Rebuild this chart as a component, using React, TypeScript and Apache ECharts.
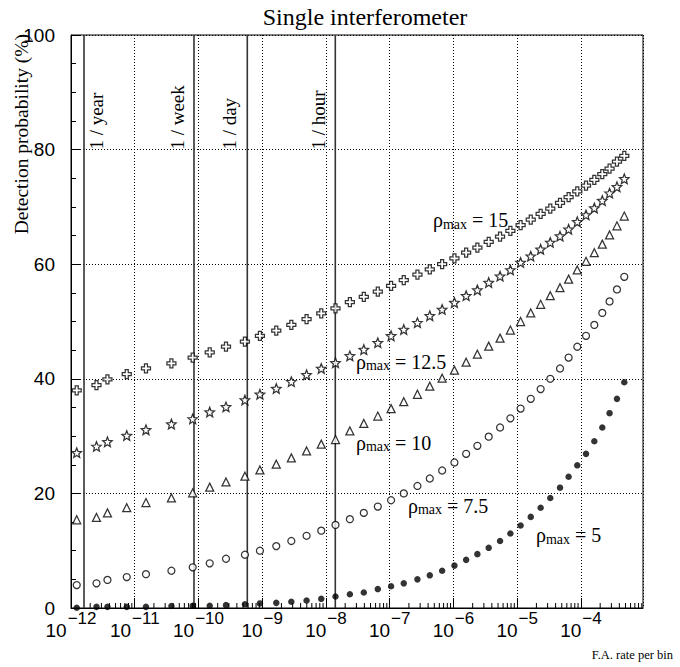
import React, { useEffect, useRef } from 'react';
import * as echarts from 'echarts';

// F.A. rate per bin (shared by all curves)
const faRate = [
  1.23e-12, 2.51e-12, 3.73e-12, 7.49e-12, 1.5e-11, 3.76e-11, 8.11e-11, 1.5e-10, 2.7e-10, 5.35e-10,
  9.2e-10, 1.66e-9, 2.86e-9, 4.96e-9, 8.43e-9, 1.41e-8, 2.37e-8, 3.92e-8, 6.5e-8, 1.05e-7,
  1.66e-7, 2.72e-7, 4.25e-7, 6.64e-7, 1.035e-6, 1.58e-6, 2.37e-6, 3.57e-6, 5.38e-6, 7.81e-6,
  1.13e-5, 1.63e-5, 2.33e-5, 3.3e-5, 4.69e-5, 6.4e-5, 8.75e-5, 1.2e-4, 1.62e-4, 2.16e-4,
  2.81e-4, 3.67e-4, 4.78e-4,
];

const rho15 = [
  38.0, 38.9, 39.9, 40.8, 41.8, 42.7, 43.7, 44.6, 45.6, 46.5, 47.5, 48.4, 49.4, 50.4, 51.4, 52.3,
  53.4, 54.3, 55.2, 56.2, 57.2, 58.2, 59.1, 60.0, 61.0, 62.0, 62.9, 63.9, 64.8, 65.8, 66.8, 67.8,
  68.8, 69.7, 70.7, 71.7, 72.7, 73.7, 74.7, 75.7, 76.7, 77.9, 78.9,
];
const rho125 = [
  27.1, 28.2, 29.0, 30.1, 31.1, 32.1, 33.0, 34.2, 35.1, 36.3, 37.3, 38.3, 39.5, 40.7, 41.8, 42.8,
  44.0, 45.1, 46.3, 47.5, 48.6, 49.8, 51.0, 52.1, 53.3, 54.5, 55.5, 56.8, 57.9, 59.0, 60.3, 61.4,
  62.6, 63.8, 64.9, 66.1, 67.4, 68.6, 69.8, 71.1, 72.4, 73.5, 74.9,
];
const rho10 = [
  15.4, 15.8, 16.6, 17.5, 18.4, 19.2, 20.1, 21.1, 22.0, 23.0, 24.1, 25.1, 26.2, 27.4, 28.6, 29.4,
  30.9, 32.2, 33.5, 34.8, 36.0, 37.3, 38.7, 40.1, 41.5, 42.9, 44.3, 45.7, 47.1, 48.5, 50.0, 51.5,
  53.0, 54.5, 55.9, 57.4, 59.0, 60.5, 62.0, 63.5, 65.1, 66.7, 68.4,
];
const rho75 = [
  4.0, 4.3, 4.9, 5.4, 5.9, 6.5, 7.1, 7.8, 8.6, 9.3, 10.0, 10.8, 11.7, 12.6, 13.5, 14.5,
  15.5, 16.6, 17.7, 18.8, 20.0, 21.3, 22.6, 24.0, 25.4, 26.9, 28.3, 29.9, 31.5, 33.1, 34.8, 36.5,
  38.2, 40.0, 41.8, 43.7, 45.6, 47.5, 49.4, 51.5, 53.5, 55.6, 57.8,
];
const rho5 = [
  0.05, 0.2, 0.2, 0.2, 0.2, 0.35, 0.4, 0.4, 0.5, 0.65, 0.8, 0.9, 1.1, 1.3, 1.6, 2.0,
  2.4, 2.7, 3.3, 3.8, 4.3, 5.0, 5.7, 6.5, 7.4, 8.4, 9.4, 10.5, 11.7, 13.0, 14.4, 15.9,
  17.5, 19.2, 21.0, 22.9, 24.9, 26.9, 29.1, 31.5, 34.0, 36.5, 39.4,
];

// reference rates (vertical lines)
const rateMarkNames = ['1 / year', '1 / week', '1 / day', '1 / hour'];
const rateMarkValues = [1.6e-12, 8.5e-11, 5.83e-10, 1.4e-8];

const curveLabels = ['15', '12.5', '10', '7.5', '5'];

const X_MIN = 1e-12;
const X_MAX = 9.4e-4;

const W = 680;
const H = 667;

const SERIF = '"Liberation Serif", "Times New Roman", serif';
const SANS = '"Liberation Sans", Arial, Helvetica, sans-serif';

const STAR =
  'path://M0,-10 L2.6,-3.6 L9.51,-3.09 L4.2,1.37 L5.88,8.09 L0,4.4 L-5.88,8.09 L-4.2,1.37 L-9.51,-3.09 L-2.6,-3.6 Z';
const CROSS = 'path://M-1,-3 L1,-3 L1,-1 L3,-1 L3,1 L1,1 L1,3 L-1,3 L-1,1 L-3,1 L-3,-1 L-1,-1 Z';

export default function App() {
  const ref = useRef<HTMLDivElement>(null);

  useEffect(() => {
    const el = ref.current;
    if (!el) return;
    const chart = echarts.init(el, null, { renderer: 'svg', width: W, height: H });

    const open = { color: '#fff', borderColor: '#000', borderWidth: 1.25 };
    const mk = (name: string, values: number[], symbol: string, size: number, itemStyle: any) => ({
      type: 'scatter',
      name,
      data: faRate.map((x, i) => [x, values[i]]),
      symbol,
      symbolSize: size,
      itemStyle,
      z: 5,
      silent: true,
    });

    const minorX: number[][] = [];
    for (let k = -12; k <= -4; k++) {
      for (let m = 2; m <= 9; m++) {
        const v = m * Math.pow(10, k);
        if (v < X_MAX) minorX.push([v, 0]);
      }
    }

    chart.setOption({
      animation: false,
      backgroundColor: '#fff',
      title: {
        text: 'Single interferometer',
        left: 365,
        top: 5,
        textAlign: 'center',
        padding: 0,
        textStyle: { fontFamily: SERIF, fontSize: 24, fontWeight: 'normal', color: '#000' },
      },
      grid: {
        left: 71,
        right: 37,
        top: 35,
        bottom: 59,
        show: true,
        borderColor: '#000',
        borderWidth: 1,
        backgroundColor: 'transparent',
      },
      xAxis: {
        type: 'log',
        logBase: 10,
        min: X_MIN,
        max: X_MAX,
        axisLine: { lineStyle: { color: '#000', width: 1 } },
        axisTick: { inside: true, length: 10, lineStyle: { color: '#000' } },
        splitLine: { show: true, lineStyle: { color: '#000', width: 1, type: [1, 2] } },
        axisLabel: {
          margin: 2,
          showMaxLabel: false,
          formatter: (v: number) => {
            const e = Math.round(Math.log10(v));
            return `{b|10}{e|${e < 0 ? '\u2212' : ''}${Math.abs(e)}}`;
          },
          rich: {
            b: { fontFamily: SANS, fontSize: 19, lineHeight: 19, verticalAlign: 'bottom', color: '#000' },
            e: { fontFamily: SANS, fontSize: 17, lineHeight: 30, verticalAlign: 'top', color: '#000', padding: [0, 0, 0, 1] },
          },
        },
      },
      yAxis: {
        type: 'value',
        min: 0,
        max: 100,
        interval: 20,
        axisLine: { show: true, lineStyle: { color: '#000', width: 1 } },
        axisTick: { show: true, inside: true, length: 9, lineStyle: { color: '#000' } },
        minorTick: { show: true, splitNumber: 4, length: 5, lineStyle: { color: '#000' } },
        splitLine: { show: true, lineStyle: { color: '#000', width: 1, type: [1, 2] } },
        axisLabel: { margin: 16, fontFamily: SANS, fontSize: 19, color: '#000' },
      },
      series: [
        {
          type: 'custom',
          name: 'minorTicks',
          silent: true,
          data: minorX,
          encode: { x: 0, y: 1 },
          renderItem: (_p: any, api: any) => {
            const p = api.coord([api.value(0), 0]);
            return {
              type: 'line',
              shape: { x1: p[0], y1: p[1], x2: p[0], y2: p[1] - 5 },
              style: { stroke: '#000', lineWidth: 1 },
            };
          },
          z: 2,
        },
        {
          type: 'custom',
          name: 'rateMarks',
          silent: true,
          data: rateMarkValues.map((v) => [v, 0]),
          encode: { x: 0, y: 1 },
          renderItem: (_p: any, api: any) => {
            const p0 = api.coord([api.value(0), 0]);
            const p1 = api.coord([api.value(0), 100]);
            return {
              type: 'line',
              shape: { x1: p0[0], y1: p0[1], x2: p1[0], y2: p1[1] },
              style: { stroke: '#333', lineWidth: 1.6 },
            };
          },
          z: 3,
        },
        mk('rho15', rho15, CROSS, 9, open),
        mk('rho12.5', rho125, STAR, 9.5, open),
        mk('rho10', rho10, 'triangle', 8, open),
        mk('rho7.5', rho75, 'circle', 7, open),
        mk('rho5', rho5, 'circle', 6.5, { color: '#000' }),
      ],
    });

    // annotations
    const graphics: any[] = [];
    const labelDx = [12.5, -16, -17.5, -17];
    rateMarkValues.forEach((v, i) => {
      const p = chart.convertToPixel({ xAxisIndex: 0, yAxisIndex: 0 }, [v, 80]) as number[];
      graphics.push({
        type: 'text',
        x: p[0] + labelDx[i],
        y: p[1],
        rotation: Math.PI / 2,
        silent: true,
        z: 10,
        style: {
          text: rateMarkNames[i],
          fontFamily: SERIF,
          fontSize: 19,
          fill: '#000',
          align: 'left',
          verticalAlign: 'middle',
        },
      });
    });

    const curveLabelPos = [
      [433, 220],
      [356, 361.5],
      [356, 442.5],
      [408, 505.5],
      [536, 535],
    ];
    curveLabels.forEach((t, i) => {
      graphics.push({
        type: 'text',
        x: curveLabelPos[i][0],
        y: curveLabelPos[i][1],
        silent: true,
        z: 10,
        style: {
          text: `{r|\u03C1}{s|max}{r| = ${t}}`,
          align: 'left',
          verticalAlign: 'middle',
          rich: {
            r: { fontFamily: SERIF, fontSize: 20, lineHeight: 22, fill: '#000', verticalAlign: 'middle' },
            s: { fontFamily: SERIF, fontSize: 14, lineHeight: 12, fill: '#000', verticalAlign: 'bottom' },
          },
        },
      });
    });

    graphics.push({
      type: 'text',
      x: 21,
      y: 34,
      rotation: Math.PI / 2,
      silent: true,
      style: {
        text: 'Detection probability (%)',
        fontFamily: SERIF,
        fontSize: 19.5,
        fill: '#000',
        align: 'right',
        verticalAlign: 'middle',
      },
    });
    graphics.push({
      type: 'text',
      x: 673,
      y: 655,
      silent: true,
      style: {
        text: 'F.A. rate per bin',
        fontFamily: SERIF,
        fontSize: 12.5,
        fill: '#000',
        align: 'right',
        verticalAlign: 'middle',
      },
    });

    chart.setOption({ graphic: graphics });

    return () => {
      chart.dispose();
    };
  }, []);

  return (
    <div
      ref={ref}
      style={{ position: 'fixed', left: 0, top: 0, width: W, height: H, background: '#fff' }}
    />
  );
}
